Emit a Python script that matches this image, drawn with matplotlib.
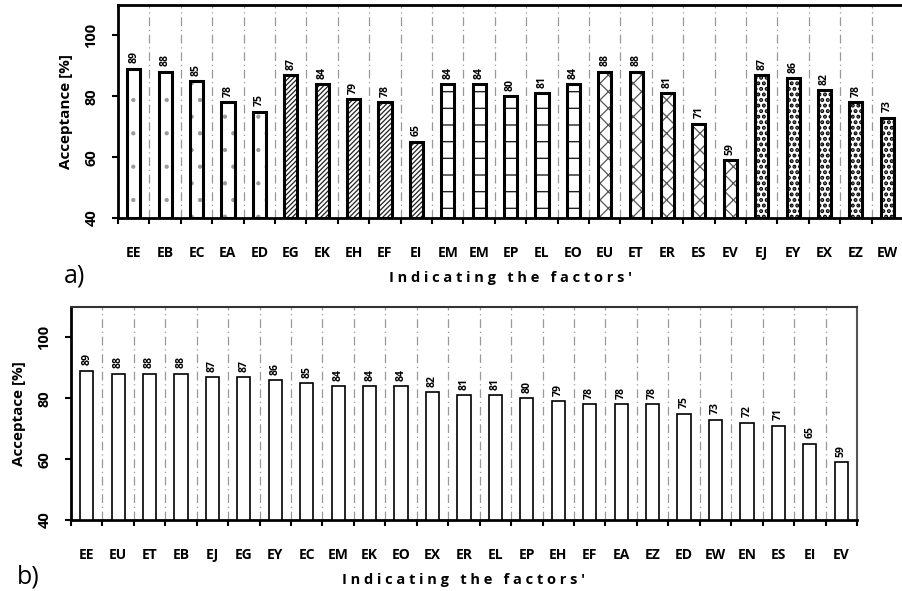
import numpy as np
import matplotlib
matplotlib.use("Agg")
from matplotlib import pyplot as plt

plt.rcParams['font.family'] = ['Open Sans', 'DejaVu Sans']
plt.rcParams['hatch.linewidth'] = 0.9

# panel a: factors grouped by category
factors_a = ["EE", "EB", "EC", "EA", "ED", "EG", "EK", "EH", "EF", "EI",
             "EM", "EM", "EP", "EL", "EO", "EU", "ET", "ER", "ES", "EV",
             "EJ", "EY", "EX", "EZ", "EW"]
accept_a = [89, 88, 85, 78, 75, 87, 84, 79, 78, 65,
            84, 84, 80, 81, 84, 88, 88, 81, 71, 59,
            87, 86, 82, 78, 73]
group_a = [0] * 5 + [1] * 5 + [2] * 5 + [3] * 5 + [4] * 5

# panel b: all factors sorted by acceptance
factors_b = ["EE", "EU", "ET", "EB", "EJ", "EG", "EY", "EC", "EM", "EK",
             "EO", "EX", "ER", "EL", "EP", "EH", "EF", "EA", "EZ", "ED",
             "EW", "EN", "ES", "EI", "EV"]
accept_b = [89, 88, 88, 88, 87, 87, 86, 85, 84, 84,
            84, 82, 81, 81, 80, 79, 78, 78, 78, 75,
            73, 72, 71, 65, 59]

hatches = ['.', '///////', '-', 'xx', '...']
hatch_cols = ['#999999', '#222222', '#222222', '#555555', '#000000']
hatch_lw = [0.6, 0.9, 1.0, 0.9, 2.0]

grid_kw = dict(color='#999999', linestyle=(0, (7, 3, 1, 3)), linewidth=0.9)


def setup_axes(ax, labels, ylabel):
    n = len(labels)
    ax.set_xlim(0, n)
    ax.set_ylim(40, 110)
    ax.set_xticks(np.arange(n) + 0.5)
    ax.set_xticklabels(labels, fontweight='bold', fontsize=10)
    ax.set_xticks(np.arange(n + 1), minor=True)
    ax.tick_params(axis='x', which='major', length=0, pad=20)
    ax.tick_params(axis='x', which='minor', length=4, width=1.5, direction='out')
    ax.grid(True, axis='x', which='minor', **grid_kw)
    ax.set_yticks([40, 60, 80, 100])
    ax.set_yticklabels(['40', '60', '80', '100'], rotation=90, va='center',
                       fontweight='bold', fontsize=10.5)
    ax.tick_params(axis='y', length=4, width=1.5, direction='out', pad=10)
    ax.set_ylabel(ylabel, fontweight='bold', fontsize=11, labelpad=8)
    ax.set_xlabel("I n d i c a t i n g   t h e   f a c t o r s '",
                  fontweight='bold', fontsize=10.5, labelpad=8)
    ax.set_axisbelow(True)


fig = plt.figure(figsize=(9.03, 5.91), dpi=100)

# ---- a) ----
ax1 = fig.add_axes([0.1307, 0.6311, 0.8693, 0.3604])
x1 = np.arange(len(factors_a)) + 0.5
for i in range(len(factors_a)):
    g = group_a[i]
    bars = ax1.bar(x1[i], accept_a[i] - 40, bottom=40, width=0.42, color='white',
                   edgecolor=hatch_cols[g], hatch=hatches[g], linewidth=0, zorder=2)
    for b in bars:
        if hasattr(b, 'set_hatch_linewidth'):
            b.set_hatch_linewidth(hatch_lw[g])
ax1.bar(x1, np.array(accept_a) - 40, bottom=40, width=0.42, fill=False,
        edgecolor='black', linewidth=2.2, zorder=3)
for xi, v in zip(x1, accept_a):
    ax1.text(xi, v + 1.8, str(v), rotation=90, ha='center', va='bottom',
             fontsize=7.5, fontweight='bold')
setup_axes(ax1, factors_a, "Acceptance [%]")
ax1.spines['right'].set_visible(False)
for s in ['left', 'bottom', 'top']:
    ax1.spines[s].set_linewidth(2)
fig.text(0.071, 0.522, "a)", fontsize=18)

# ---- b) ----
ax2 = fig.add_axes([0.0786, 0.1201, 0.8704, 0.3604])
x2 = np.arange(len(factors_b)) + 0.5
ax2.bar(x2, np.array(accept_b) - 40, bottom=40, width=0.42, color='white',
        edgecolor='black', linewidth=1.2, zorder=3)
for xi, v in zip(x2, accept_b):
    ax2.text(xi, v + 1.8, str(v), rotation=90, ha='center', va='bottom',
             fontsize=7.5, fontweight='bold')
setup_axes(ax2, factors_b, "Acceptace [%]")
ax2.spines['left'].set_linewidth(2)
ax2.spines['bottom'].set_linewidth(2)
ax2.spines['top'].set_linewidth(1.5)
ax2.spines['right'].set_linewidth(1.5)
ax2.spines['top'].set_color('#333333')
ax2.spines['right'].set_color('#555555')
fig.text(0.019, 0.013, "b)", fontsize=18)

plt.savefig("out.png", dpi=100)
